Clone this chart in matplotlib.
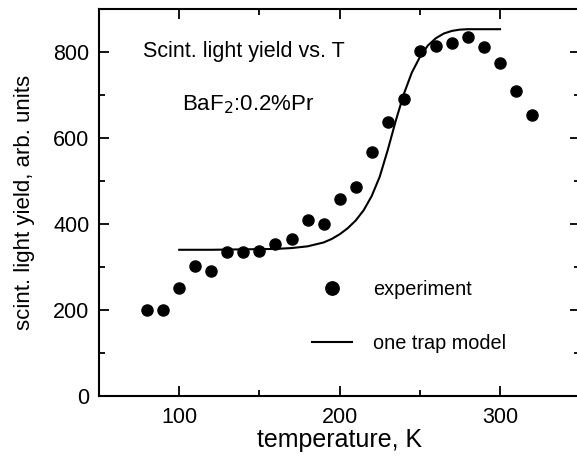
import numpy as np
import matplotlib
matplotlib.use("Agg")
import matplotlib.pyplot as plt
from matplotlib.ticker import MultipleLocator

plt.rcParams['font.family'] = ['Liberation Sans', 'DejaVu Sans']

# measured scintillation light yield
T_exp = [80, 90, 100, 110, 120, 130, 140, 150, 160, 170, 180, 190, 200, 210,
         220, 230, 240, 250, 260, 270, 280, 290, 300, 310, 320]
ly_exp = [200, 200, 250, 303, 291, 334, 334, 337, 353, 364, 409, 401, 458, 487,
          568, 636, 691, 802, 815, 822, 834, 812, 774, 709, 653]

# one trap model curve
T_mod = [100, 120, 140, 160, 170, 180, 190, 195, 200, 205, 210, 215, 220, 225,
         230, 235, 240, 245, 250, 255, 260, 265, 270, 275, 280, 290, 300]
ly_mod = [340, 340, 341, 342, 344, 348, 357, 365, 376, 390, 408, 432, 465, 510,
          572, 640, 702, 752, 788, 815, 832, 843, 849, 852, 853, 853, 853]

fig = plt.figure(figsize=(5.77, 4.58), dpi=100)
ax = fig.add_axes([0.1716, 0.1354, 0.834, 0.845])

ax.plot(T_exp, ly_exp, 'o', color='black', markersize=8, label='experiment')
ax.plot(T_mod, ly_mod, '-', color='black', lw=1.5, label='one trap model')

ax.set_xlim(50, 350)
ax.set_ylim(0, 900)
ax.xaxis.set_major_locator(MultipleLocator(100))
ax.xaxis.set_minor_locator(MultipleLocator(50))
ax.yaxis.set_major_locator(MultipleLocator(200))
ax.yaxis.set_minor_locator(MultipleLocator(100))
ax.tick_params(which='both', direction='in', top=True, right=True,
               width=1.3, labelsize=15.5)
ax.tick_params(which='major', length=7)
ax.tick_params(which='minor', length=4)
ax.tick_params(axis='x', which='major', pad=8)
ax.tick_params(axis='y', which='major', pad=7)
for s in ax.spines.values():
    s.set_linewidth(1.5)

ax.set_xlabel('temperature, K', fontsize=18, labelpad=0)
ax.set_ylabel('scint. light yield, arb. units', fontsize=16, labelpad=13)

ax.text(0.092, 0.889, 'Scint. light yield vs. T', transform=ax.transAxes,
        fontsize=15.5, va='center')
ax.text(0.173, 0.752, r'BaF$_2$:0.2%Pr', transform=ax.transAxes,
        fontsize=16, va='center')

ax.legend(loc='upper left', bbox_to_anchor=(0.405, 0.345), frameon=False,
          fontsize=14.3, markerscale=1.2, handlelength=2.0, labelspacing=1.75,
          handletextpad=1.1)

fig.savefig('out.png', dpi=100)
